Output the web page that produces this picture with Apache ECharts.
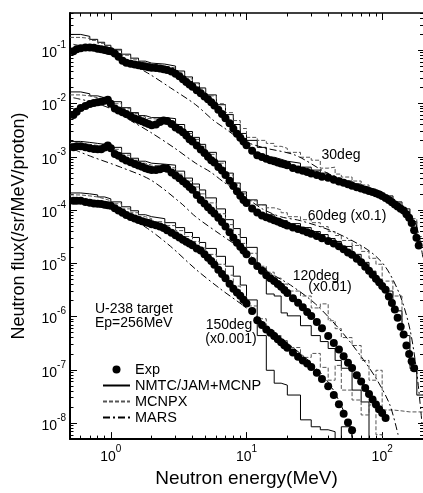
<!DOCTYPE html>
<html>
<head>
<meta charset="utf-8">
<script src="https://cdn.jsdelivr.net/npm/echarts@6/dist/echarts.min.js"></script>
<style>
  html, body { margin: 0; padding: 0; background: #fff; }
  #chart { width: 423px; height: 493px; }
</style>
</head>
<body>
<div id="chart"></div>
<script>
// measured neutron spectra, energies in MeV
var expEnergy = [0.53, 0.56, 0.6, 0.65, 0.7, 0.75, 0.8, 0.85, 0.9, 0.95, 1.0, 1.07, 1.14, 1.22, 1.3, 1.4, 1.5, 1.6, 1.7, 1.8,
  1.9, 2.0, 2.15, 2.3, 2.45, 2.6, 2.8, 3.0, 3.2, 3.4, 3.6, 3.8, 4.0, 4.3, 4.6, 4.9, 5.2, 5.5, 5.8, 6.2,
  6.6, 7.0, 7.5, 8.0, 8.5, 9.0, 9.5, 10, 11, 12, 13, 14, 15, 16, 17, 18, 19, 20, 22, 24,
  26, 28, 30, 33, 36, 40, 44, 48, 52, 56, 60, 65, 70, 75, 80, 85, 90, 95, 100, 106,
  112, 118, 124, 130, 137, 144, 151, 158, 165, 172, 179, 186];

var exp30 = [0.0958, 0.104, 0.109, 0.113, 0.113, 0.111, 0.107, 0.104, 0.101, 0.0983,
  0.0958, 0.0865, 0.0751, 0.0632, 0.0583, 0.0559, 0.054, 0.0522, 0.0506, 0.0493,
  0.0479, 0.0467, 0.0463, 0.0455, 0.044, 0.0426, 0.0398, 0.0362, 0.0323, 0.0286,
  0.0254, 0.0228, 0.0206, 0.0177, 0.0155, 0.0136, 0.012, 0.0105, 0.00916, 0.00765,
  0.00633, 0.00531, 0.00424, 0.00337, 0.00271, 0.00227, 0.00193, 0.00165, 0.00129, 0.00107,
  0.000987, 0.000918, 0.000861, 0.000821, 0.000783, 0.000751, 0.000722, 0.000695, 0.000616, 0.000578,
  0.000544, 0.000515, 0.000487, 0.000453, 0.000423, 0.000402, 0.000369, 0.000343, 0.000325, 0.000304,
  0.000287, 0.000268, 0.000253, 0.000239, 0.000227, 0.000218, 0.000206, 0.000196, 0.000184, 0.000168,
  0.000154, 0.00014, 0.000127, 0.000117, 0.000106, 9.81e-5, 8.3e-5, 7.18e-5, 5.7e-5, 4.19e-5,
  3.02e-5, 2.16e-5];

var exp60 = [0.00605, 0.00696, 0.00826, 0.009, 0.00973, 0.0102, 0.0105, 0.0108, 0.0113, 0.0117,
  0.00989, 0.00805, 0.00736, 0.00684, 0.00636, 0.00574, 0.00525, 0.00492, 0.00464, 0.00437,
  0.00413, 0.00392, 0.00402, 0.00448, 0.00478, 0.00468, 0.0041, 0.00355, 0.00322, 0.0029,
  0.0025, 0.00214, 0.00194, 0.00162, 0.00137, 0.00118, 0.000996, 0.000861, 0.000777, 0.000643,
  0.000549, 0.000453, 0.000353, 0.000282, 0.000226, 0.000185, 0.000155, 0.000136, 0.000107, 8.96e-5,
  7.92e-5, 7.33e-5, 6.87e-5, 6.44e-5, 6.07e-5, 5.72e-5, 5.41e-5, 5.13e-5, 4.72e-5, 4.42e-5,
  4.11e-5, 3.84e-5, 3.58e-5, 3.26e-5, 2.96e-5, 2.63e-5, 2.34e-5, 2.09e-5, 1.83e-5, 1.6e-5,
  1.44e-5, 1.21e-5, 1.04e-5, 8.61e-6, 7.22e-6, 6.11e-6, 5.15e-6, 4.38e-6, 3.73e-6, 3.17e-6,
  2.38e-6, 1.8e-6, 1.36e-6, 9.48e-7, 6.44e-7, 4.58e-7, 2.86e-7, 1.98e-7, 1.44e-7, 1.07e-7];

var exp120 = [0.0015, 0.00157, 0.00157, 0.0015, 0.00145, 0.0014, 0.00138, 0.00139, 0.00149, 0.00163,
  0.00144, 0.00113, 0.00105, 0.00093, 0.000853, 0.00079, 0.000731, 0.000686, 0.000646, 0.000608,
  0.00058, 0.000565, 0.000565, 0.000585, 0.000616, 0.000598, 0.000504, 0.000443, 0.000393, 0.000347,
  0.000308, 0.00027, 0.000239, 0.000192, 0.000154, 0.000132, 0.000113, 9.81e-5, 8.59e-5, 7.18e-5,
  5.94e-5, 4.9e-5, 3.84e-5, 3.03e-5, 2.44e-5, 2.05e-5, 1.73e-5, 1.48e-5, 1.1e-5, 8.87e-6,
  7.25e-6, 5.98e-6, 5.26e-6, 4.63e-6, 4.1e-6, 3.62e-6, 3.16e-6, 2.78e-6, 2.21e-6, 1.81e-6,
  1.5e-6, 1.22e-6, 1.02e-6, 7.88e-7, 6.02e-7, 4.31e-7, 3.19e-7, 2.4e-7, 1.8e-7, 1.36e-7,
  1.08e-7, 7.94e-8, 6.03e-8, 4.57e-8, 3.52e-8, 2.76e-8, 2.22e-8, 1.81e-8, 1.55e-8, 1.25e-8];

var exp150 = [0.000149, 0.000149, 0.000149, 0.000142, 0.000137, 0.000133, 0.000131, 0.00013, 0.000126, 0.000123,
  0.00012, 0.000108, 9.77e-5, 8.85e-5, 8.05e-5, 7.42e-5, 6.93e-5, 6.5e-5, 6.12e-5, 5.92e-5,
  5.72e-5, 5.41e-5, 5.18e-5, 4.9e-5, 4.6e-5, 4.19e-5, 3.73e-5, 3.36e-5, 3.04e-5, 2.77e-5,
  2.55e-5, 2.35e-5, 2.17e-5, 1.89e-5, 1.74e-5, 1.48e-5, 1.27e-5, 1.1e-5, 9.34e-6, 7.6e-6,
  6.3e-6, 5.22e-6, 4.12e-6, 3.34e-6, 2.82e-6, 2.45e-6, 2.06e-6, 1.75e-6, 1.27e-6, 8.48e-7,
  6.9e-7, 5.7e-7, 4.94e-7, 4.29e-7, 3.76e-7, 3.29e-7, 2.9e-7, 2.59e-7, 2.11e-7, 1.76e-7,
  1.5e-7, 1.31e-7, 1.13e-7, 8.83e-8, 6.71e-8, 4.91e-8, 3.37e-8, 2.26e-8, 1.5e-8, 1.03e-8,
  7.3e-9];

// calculated spectra, histogram bin edges (MeV), one value per bin, 0 = empty bin
var calcEdges = [0.5, 0.6, 0.7, 0.8, 0.9, 1.0, 1.2, 1.4, 1.6, 1.8, 2.0, 2.5, 3, 3.5, 4, 4.5, 5, 6, 7, 8, 9, 10,
  12, 14, 16, 18, 20, 25, 30, 35, 40, 45, 50, 60, 70, 80, 90, 100, 120, 140, 160, 180, 200];

var nmtc30 = [0.198, 0.182, 0.16, 0.141, 0.124, 0.104, 0.0843, 0.071, 0.0624, 0.0573,
  0.0549, 0.0504, 0.0407, 0.0315, 0.0243, 0.0196, 0.0145, 0.00948, 0.00618, 0.00403,
  0.00274, 0.00203, 0.0015, 0.000979, 0.000898, 0.000825, 0.000757, 0.000638, 0.000561, 0.000493,
  0.000434, 0.000398, 0.00035, 0.000308, 0.000271, 0.000238, 0.000219, 0.000184, 0.000142, 0.000105,
  6.05e-5, 2.57e-5];
var mcnpx30 = [0.174, 0.167, 0.153, 0.135, 0.119, 0.1, 0.0807, 0.068, 0.0598, 0.0549,
  0.0504, 0.0463, 0.0373, 0.0289, 0.0233, 0.0188, 0.0139, 0.0099, 0.00673, 0.00478,
  0.00339, 0.00231, 0.00203, 0.00178, 0.00157, 0.00144, 0.00121, 0.000979, 0.000861, 0.000611,
  0.000638, 0.000473, 0.000416, 0.00035, 0.000295, 0.000249, 0.000219, 0.000184, 0.000136, 0.000105,
  6.88e-5, 3.18e-5];

var nmtc60 = [0.0165, 0.0152, 0.0139, 0.0128, 0.0122, 0.0108, 0.00834, 0.00673, 0.00592, 0.00543,
  0.00543, 0.0052, 0.00403, 0.00298, 0.00231, 0.00171, 0.00121, 0.000825, 0.000493, 0.000321,
  0.000219, 0.000155, 0.000125, 8.16e-5, 6.88e-5, 6.31e-5, 5.55e-5, 4.68e-5, 3.94e-5, 3.46e-5,
  2.92e-5, 2.57e-5, 2.07e-5, 1.47e-5, 1.04e-5, 7.1e-6, 4.83e-6, 3.01e-6, 1.28e-6, 4.39e-7,
  1.21e-7, 3.36e-8];
var mcnpx60 = [0.0145, 0.0139, 0.0128, 0.0122, 0.0112, 0.0099, 0.00799, 0.00645, 0.00567, 0.0052,
  0.00498, 0.00458, 0.00369, 0.00274, 0.00212, 0.00157, 0.00111, 0.000757, 0.000453, 0.000295,
  0.000201, 0.000149, 0.000125, 0.00011, 0.000101, 8.89e-5, 7.49e-5, 6.59e-5, 5.79e-5, 4.88e-5,
  3.94e-5, 3.32e-5, 2.68e-5, 2.16e-5, 1.67e-5, 1.24e-5, 9.58e-6, 4.63e-6, 2.43e-6, 4.39e-7,
  9.79e-8, 3.36e-8];

var nmtc120 = [0.00194, 0.00186, 0.00178, 0.00171, 0.00171, 0.0015, 0.00116, 0.000938, 0.000825, 0.000757,
  0.000725, 0.000695, 0.000537, 0.000398, 0.000308, 0.000238, 0.000169, 0.000105, 6.59e-5, 4.48e-5,
  3.05e-5, 1.99e-5, 8.07e-6, 2.65e-6, 2.43e-6, 1.17e-6, 1.03e-6, 6.73e-7, 4.39e-7, 3.39e-7,
  2.51e-7, 1.5e-7, 1.07e-7, 4.16e-8, 2.49e-8, 0, 0, 0, 0, 0,
  0, 0];
var mcnpx120 = [0.00178, 0.00171, 0.00163, 0.00157, 0.00157, 0.00138, 0.00107, 0.000861, 0.000757, 0.000695,
  0.000666, 0.000611, 0.000473, 0.00035, 0.000271, 0.000201, 0.000136, 8.52e-5, 5.32e-5, 3.46e-5,
  2.36e-5, 1.54e-5, 8.8e-6, 6.8e-6, 5.26e-6, 4.07e-6, 3.01e-6, 2.43e-6, 1.45e-6, 1.73e-6,
  8.34e-7, 5.92e-7, 4.03e-7, 2.86e-7, 1.5e-7, 6.38e-8, 9.79e-8, 1.76e-8, 1.69e-8, 1.62e-8,
  1.62e-8, 1.62e-8];

var nmtc150 = [0.000209, 0.000201, 0.000192, 0.000176, 0.000162, 0.000142, 0.000115, 9.68e-5, 8.16e-5, 7.49e-5,
  6.88e-5, 5.79e-5, 4.68e-5, 3.78e-5, 3.05e-5, 2.46e-5, 1.9e-5, 1.35e-5, 8.8e-6, 5.73e-6,
  3.9e-6, 2.05e-6, 4.39e-7, 9.79e-8, 5.61e-8, 5.15e-8, 3.36e-8, 1.15e-8, 8.52e-9, 7.49e-9,
  6.88e-9, 0, 8.52e-9, 0, 0, 0, 0, 0, 0, 0,
  0, 0];
var mcnpx150 = [0.000192, 0.000184, 0.000176, 0.000162, 0.000149, 0.000131, 0.000105, 8.89e-5, 7.49e-5, 6.88e-5,
  6.05e-5, 5.1e-5, 4.11e-5, 3.18e-5, 2.57e-5, 1.99e-5, 1.47e-5, 9.58e-6, 5.98e-6, 3.73e-6,
  2.43e-6, 1.58e-6, 9.08e-7, 5.43e-7, 4.39e-7, 3.54e-7, 2.62e-7, 1.71e-7, 2.03e-7, 1.11e-7,
  6.38e-8, 1.21e-7, 4.16e-8, 2.71e-8, 1.42e-8, 2.19e-8, 6.05e-9, 0, 0, 0,
  0, 0];

// MARS smooth curves
var marsE30 = [0.53, 0.71, 1.0, 1.4, 1.87, 2.76, 4.22, 5.62, 6.78, 9.35, 13.1, 22.9, 40.8, 84.3, 133, 166, 184, 200];
var mars30 = [0.129, 0.109, 0.0807, 0.0549, 0.0373, 0.0196, 0.00948, 0.00498, 0.00354, 0.00203,
  0.0015, 0.00107, 0.000473, 0.000238, 0.000131, 7.49e-5, 3.94e-5, 1.24e-5];
var marsE60 = [0.53, 0.71, 1.0, 1.4, 1.97, 2.9, 4.22, 5.44, 6.78, 10, 13.1, 17.8, 25, 43.6, 77.6, 105, 136, 161, 181, 197];
var mars60 = [0.0128, 0.0108, 0.00799, 0.00478, 0.00286, 0.0015, 0.000757, 0.000515, 0.000336, 0.000169,
  0.000105, 7.49e-5, 6.31e-5, 3.94e-5, 1.82e-5, 8.8e-6, 2.43e-6, 5.43e-7, 7.9e-8, 9.28e-9];
var marsE120 = [0.53, 0.71, 1.18, 1.97, 3.27, 4.22, 6.44, 10.2, 14.3, 21.1, 32.2, 51.7, 72.5, 91.9, 114, 131];
var mars120 = [0.00138, 0.00102, 0.000638, 0.000366, 0.000136, 7.49e-5, 3.46e-5, 1.54e-5, 7.1e-6, 3.9e-6,
  1.73e-6, 4.78e-7, 1.57e-7, 6.38e-8, 2.19e-8, 6.05e-9];
var marsE150 = [0.53, 0.84, 1.29, 1.87, 2.76, 4.22, 6.44, 10.2, 15, 21.1, 29.6, 41.5, 53.5, 60.2];
var mars150 = [0.000149, 0.00012, 7.82e-5, 4.48e-5, 2.07e-5, 7.74e-6, 3.28e-6, 1.39e-6, 5.92e-7, 2.86e-7,
  1.38e-7, 5.15e-8, 1.42e-8, 5.32e-9];

// axis tick labels
var xTickValues = [1, 10, 100];
var yTickValues = [1e-8, 1e-7, 1e-6, 1e-5, 1e-4, 1e-3, 1e-2, 1e-1];

var FONT = '"Liberation Sans", Arial, Helvetica, sans-serif';
var X_MIN = 0.5, X_MAX = 200, Y_MIN = 5e-9, Y_MAX = 0.5;

function pairs(xs, ys) {
    var out = [];
    for (var i = 0; i < ys.length; i++) {
        if (ys[i] != null) out.push([xs[i], ys[i]]);
    }
    return out;
}

// histogram outline, empty bins pushed far below the axis (clipped)
function steps(edges, vals) {
    var out = [];
    for (var i = 0; i < vals.length; i++) {
        var v = vals[i] > 0 ? vals[i] : 1e-12;
        out.push([edges[i], v], [edges[i + 1], v]);
    }
    return out;
}

function minorTicks(lo, hi) {
    var out = [];
    for (var d = -10; d <= 3; d++) {
        for (var m = 2; m <= 9; m++) {
            var v = m * Math.pow(10, d);
            if (v >= lo * 0.999 && v <= hi * 1.001) out.push(v);
        }
    }
    return out;
}

function powLabel(v) {
    return '{n|10}{e|' + Math.round(Math.log10(v)) + '}';
}

var labelRich = {
    n: { fontSize: 14, fontFamily: FONT, color: '#000', lineHeight: 20, verticalAlign: 'bottom' },
    e: { fontSize: 10, fontFamily: FONT, color: '#000', lineHeight: 10, verticalAlign: 'top' }
};

function makeAxis(pos, min, max, ticks, len, withLine, lineWidth) {
    return {
        type: 'log',
        logBase: 10,
        position: pos,
        min: min,
        max: max,
        axisLine: { show: withLine, onZero: false, lineStyle: { color: '#000', width: lineWidth } },
        axisTick: { show: true, inside: true, length: len, customValues: ticks, lineStyle: { color: '#000', width: 1 } },
        minorTick: { show: false },
        axisLabel: { show: false },
        splitLine: { show: false }
    };
}

var xMain = makeAxis('bottom', X_MIN, X_MAX, xTickValues, 7, true, 2);
xMain.axisLabel = { show: true, customValues: xTickValues, formatter: powLabel, rich: labelRich, margin: 5 };
xMain.name = 'Neutron energy(MeV)';
xMain.nameLocation = 'middle';
xMain.nameGap = 27;
xMain.nameTextStyle = { fontSize: 19, fontFamily: FONT, color: '#000' };

var yMain = makeAxis('left', Y_MIN, Y_MAX, yTickValues, 7, true, 2);
yMain.axisLabel = { show: true, customValues: yTickValues, formatter: powLabel, rich: labelRich, margin: 4 };
yMain.name = 'Neutron flux(/sr/MeV/proton)';
yMain.nameLocation = 'middle';
yMain.nameGap = 42;
yMain.nameTextStyle = { fontSize: 18, fontFamily: FONT, color: '#000' };

var xAxes = [
    xMain,
    makeAxis('bottom', X_MIN, X_MAX, minorTicks(X_MIN, X_MAX), 3.5, false, 1),
    makeAxis('top', X_MIN, X_MAX, xTickValues, 7, true, 1.5),
    makeAxis('top', X_MIN, X_MAX, minorTicks(X_MIN, X_MAX), 3.5, false, 1)
];
var yAxes = [
    yMain,
    makeAxis('left', Y_MIN, Y_MAX, minorTicks(Y_MIN, Y_MAX), 3.5, false, 1),
    makeAxis('right', Y_MIN, Y_MAX, yTickValues, 5, false, 1),
    makeAxis('right', Y_MIN, Y_MAX, minorTicks(Y_MIN, Y_MAX), 3, false, 1)
];

var angles = [
    { exp: exp30, nmtc: nmtc30, mcnpx: mcnpx30, marsE: marsE30, mars: mars30 },
    { exp: exp60, nmtc: nmtc60, mcnpx: mcnpx60, marsE: marsE60, mars: mars60 },
    { exp: exp120, nmtc: nmtc120, mcnpx: mcnpx120, marsE: marsE120, mars: mars120 },
    { exp: exp150, nmtc: nmtc150, mcnpx: mcnpx150, marsE: marsE150, mars: mars150 }
];

var series = [];
angles.forEach(function (a) {
    series.push({
        name: 'NMTC/JAM+MCNP', type: 'line', data: steps(calcEdges, a.nmtc),
        symbol: 'none', lineStyle: { color: '#000', width: 1 }, itemStyle: { color: '#000' }, z: 2
    });
    series.push({
        name: 'MCNPX', type: 'line', data: steps(calcEdges, a.mcnpx),
        symbol: 'none', lineStyle: { color: '#555', width: 1, type: [4, 2] }, itemStyle: { color: '#555' }, z: 2
    });
    series.push({
        name: 'MARS', type: 'line', data: pairs(a.marsE, a.mars), smooth: 0.3,
        symbol: 'none', lineStyle: { color: '#000', width: 1, type: [7, 3, 2, 3] }, itemStyle: { color: '#000' }, z: 3
    });
});
angles.forEach(function (a) {
    series.push({
        name: 'Exp', type: 'scatter', data: pairs(expEnergy, a.exp),
        symbol: 'circle', symbolSize: 8, itemStyle: { color: '#000', opacity: 1 }, z: 5
    });
});

function note(text, x, y, align) {
    return {
        type: 'text', x: x, y: y, z: 10,
        style: { text: text, fontSize: 14, fontFamily: FONT, fill: '#000', align: align || 'center', verticalAlign: 'middle' }
    };
}

var chart = echarts.init(document.getElementById('chart'), null, { renderer: 'canvas' });
chart.setOption({
    animation: false,
    backgroundColor: '#fff',
    grid: { left: 70, right: 0, top: 13, bottom: 50, containLabel: false },
    xAxis: xAxes,
    yAxis: yAxes,
    legend: {
        orient: 'vertical', left: 97, top: 357,
        itemWidth: 27, itemHeight: 8, itemGap: 1,
        selectedMode: false,
        data: [
            { name: 'Exp', itemStyle: { color: '#000', opacity: 1 } },
            { name: 'NMTC/JAM+MCNP', itemStyle: { opacity: 0 } },
            { name: 'MCNPX', itemStyle: { opacity: 0 } },
            { name: 'MARS', itemStyle: { opacity: 0 } }
        ],
        textStyle: { fontSize: 14.5, fontFamily: FONT, color: '#000', lineHeight: 14 }
    },
    series: series,
    graphic: [
        note('30deg', 341, 155),
        note('60deg (x0.1)', 347, 216),
        note('120deg', 316, 276),
        note('(x0.01)', 330, 287),
        note('150deg', 229, 325),
        note('(x0.001)', 231, 339),
        note('U-238 target', 95, 309, 'left'),
        note('Ep=256MeV', 95, 323, 'left')
    ]
});
</script>
</body>
</html>
